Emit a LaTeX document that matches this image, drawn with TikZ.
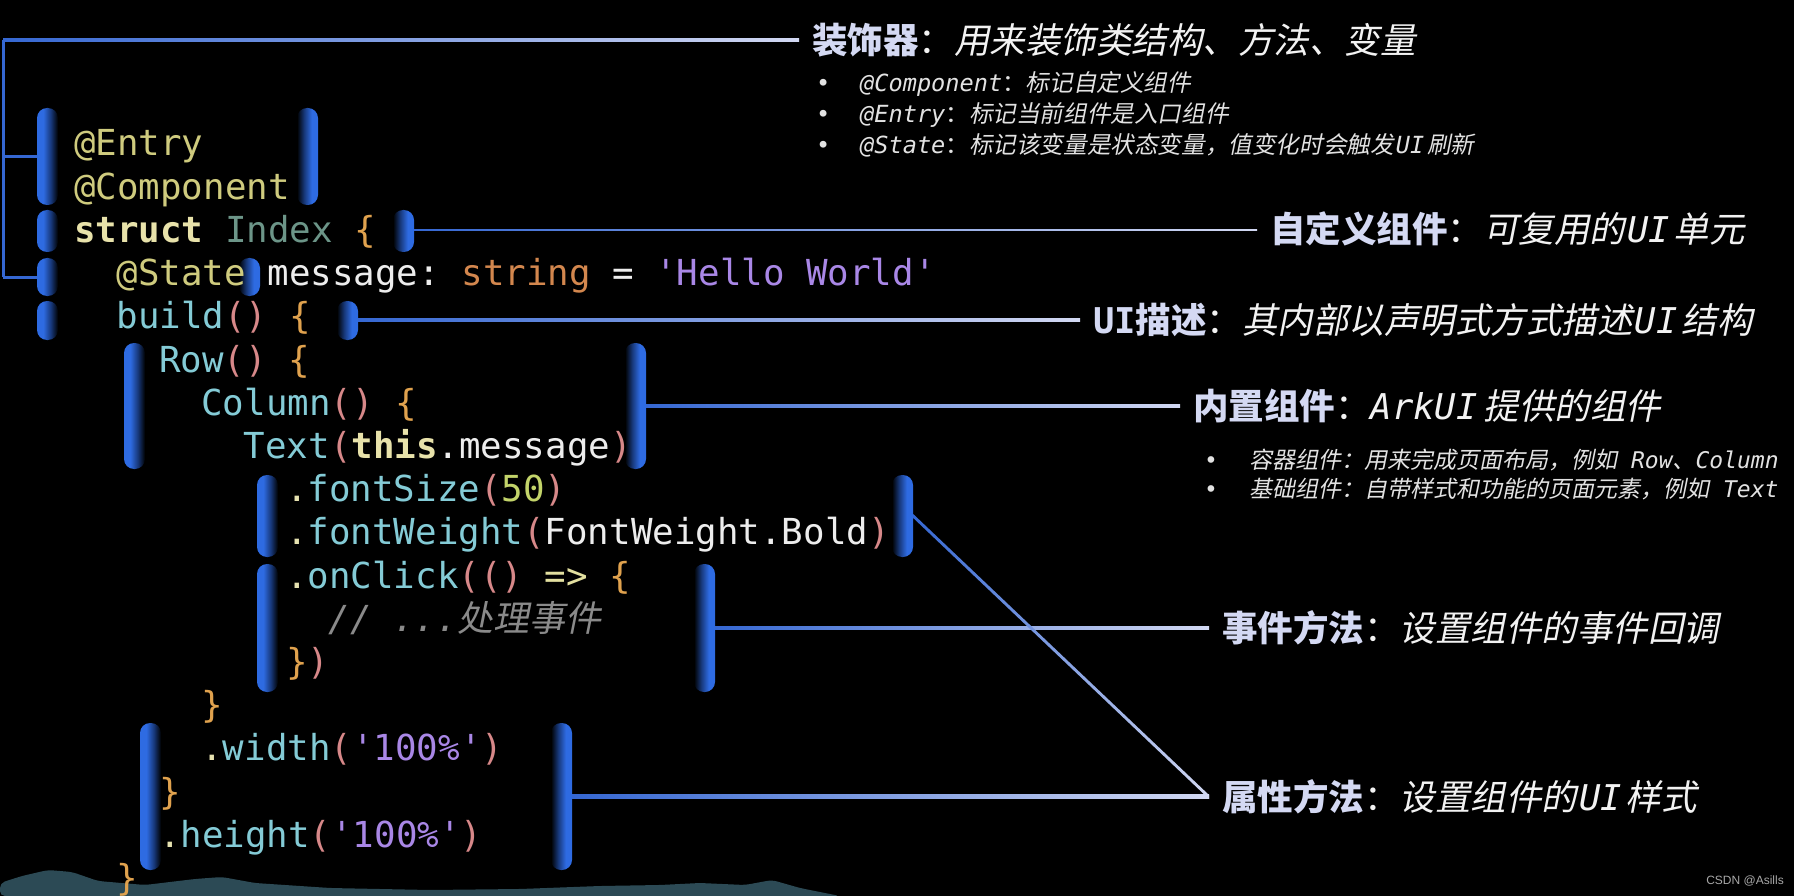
\documentclass[tikz,border=0pt]{standalone}
\usepackage{fontspec}
\setmonofont{DejaVu Sans Mono}
\newfontfamily\cjk{Noto Sans CJK SC}[ItalicFont={Noto Sans CJK SC}, ItalicFeatures={FakeSlant=0.2}]
\newfontfamily\wmfont{Liberation Sans}
\usetikzlibrary{calc,fit}
\definecolor{deco}{HTML}{CFCB7E}
\definecolor{kw}{HTML}{E8E2AA}
\definecolor{typ}{HTML}{6C9588}
\definecolor{brc}{HTML}{E0A24E}
\definecolor{par}{HTML}{D78889}
\definecolor{fn}{HTML}{84CBD6}
\definecolor{strc}{HTML}{A987E6}
\definecolor{stype}{HTML}{D3874E}
\definecolor{wht}{HTML}{EDEDED}
\definecolor{num}{HTML}{C3D46A}
\definecolor{cmt}{HTML}{8A8A8A}
\definecolor{arr}{HTML}{E3E0A0}
\definecolor{dotc}{HTML}{E6E2B0}
\definecolor{barblue}{HTML}{2E6BE2}
\definecolor{bardark}{HTML}{17387A}
\definecolor{lnA}{HTML}{3567D2}
\definecolor{lnB}{HTML}{D2D8F2}
\definecolor{ttl}{HTML}{D4D9F3}
\definecolor{dsc}{HTML}{F2F2F2}
\definecolor{bul}{HTML}{E2E2E2}
\definecolor{silh}{HTML}{2C4A55}
\definecolor{wm}{HTML}{A8A8A8}
\pgfdeclarehorizontalshading{barLeft}{100bp}{color(0bp)=(barblue); color(25bp)=(barblue); color(40bp)=(barblue); color(58bp)=(bardark); color(75bp)=(black); color(100bp)=(black)}
\pgfdeclarehorizontalshading{barRight}{100bp}{color(0bp)=(black); color(25bp)=(black); color(42bp)=(bardark); color(60bp)=(barblue); color(75bp)=(barblue); color(100bp)=(barblue)}
\newcommand{\cl}[4]{\node[code] (#1) at ({74+#2*21.2},{145+#3*43.2+11}) {#4};}
\newcommand{\codebox}[5]{%
  \shade[shading=barLeft, rounded corners=10pt] (#2,#3) rectangle (#2+21,#5);
  \shade[shading=barRight, rounded corners=10pt] (#4-21,#3) rectangle (#4,#5);
  \path (#2,#3) coordinate (#1-nw) (#4,#5) coordinate (#1-se);
  \node[inner sep=0pt, fit=(#1-nw)(#1-se)] (#1) {};
}
\newcommand{\gl}[2]{\shade[left color=lnA, right color=lnB] ($(#1)+(0,-1.6)$) rectangle ($(#2)+(0,1.6)$);}
\newcommand{\ui}{{\ttfamily\itshape UI}\hspace{4pt}}
\begin{document}
\begin{tikzpicture}[x=1pt,y=-1pt,
  code/.style={font=\ttfamily\fontsize{35.8}{43}\selectfont, anchor=base west, inner sep=0pt},
  lab/.style={font=\fontsize{35.5}{41}\selectfont, anchor=west, inner xsep=13pt, inner ysep=0pt, text=dsc},
  bl/.style={font=\fontsize{23.6}{28}\selectfont, anchor=west, inner sep=0pt, text=bul},
  bls/.style={font=\fontsize{23}{28}\selectfont, anchor=west, inner sep=0pt, text=bul},
  vline/.style={draw=lnA, line width=3pt}]
\fill[black] (0,0) rectangle (1794,896);
\useasboundingbox (0,0) rectangle (1794,896);
% bottom silhouette
\fill[silh, rounded corners=5pt] (0,896) -- (0,883) -- (22,876) -- (48,870) -- (72,872) -- (98,881) -- (145,885) -- (195,879) -- (222,877) -- (255,883) -- (330,888) -- (430,890) -- (520,889) -- (600,886) -- (660,885) -- (700,883) -- (745,885) -- (772,880) -- (800,888) -- (840,896) -- cycle;
% boxes
\codebox{bDeco}{37}{108}{318}{205}
\codebox{bStruct}{37}{210}{414}{252}
\codebox{bState}{37}{258}{260}{296}
\codebox{bBuild}{37}{301}{358}{340}
\codebox{bRow}{124}{343}{646}{469}
\codebox{bAttrA}{257}{475}{913}{557}
\codebox{bEvent}{257}{564}{715}{692}
\codebox{bAttrB}{140}{723}{572}{870}
% code
\cl{l0}{0}{0}{\textcolor{deco}{@Entry}}
\cl{l1}{0}{1}{\textcolor{deco}{@Component}}
\cl{l2}{0}{2}{\textcolor{kw}{\bfseries struct} \textcolor{typ}{Index} \textcolor{brc}{\{}}
\cl{l3}{2}{3}{\textcolor{deco}{@State} \textcolor{wht}{message:} \textcolor{stype}{string} \textcolor{wht}{=} \textcolor{strc}{'Hello World'}}
\cl{l4}{2}{4}{\textcolor{fn}{build}\textcolor{par}{()} \textcolor{brc}{\{}}
\cl{l5}{4}{5}{\textcolor{fn}{Row}\textcolor{par}{()} \textcolor{brc}{\{}}
\cl{l6}{6}{6}{\textcolor{fn}{Column}\textcolor{par}{()} \textcolor{brc}{\{}}
\cl{l7}{8}{7}{\textcolor{fn}{Text}\textcolor{par}{(}\textcolor{kw}{\bfseries this}\textcolor{wht}{.message}\textcolor{par}{)}}
\cl{l8}{10}{8}{\textcolor{dotc}{.}\textcolor{fn}{fontSize}\textcolor{par}{(}\textcolor{num}{50}\textcolor{par}{)}}
\cl{l9}{10}{9}{\textcolor{dotc}{.}\textcolor{fn}{fontWeight}\textcolor{par}{(}\textcolor{wht}{FontWeight.Bold}\textcolor{par}{)}}
\cl{l10}{10}{10}{\textcolor{dotc}{.}\textcolor{fn}{onClick}\textcolor{par}{(()} \textcolor{arr}{=>} \textcolor{brc}{\{}}
\cl{l11}{12}{11}{\textcolor{cmt}{\itshape // ...{\cjk\itshape 处理事件}}}
\cl{l12}{10}{12}{\textcolor{brc}{\}}\textcolor{par}{)}}
\cl{l13}{6}{13}{\textcolor{brc}{\}}}
\cl{l14}{6}{14}{\textcolor{dotc}{.}\textcolor{fn}{width}\textcolor{par}{(}\textcolor{strc}{'100\%'}\textcolor{par}{)}}
\cl{l15}{4}{15}{\textcolor{brc}{\}}}
\cl{l16}{4}{16}{\textcolor{dotc}{.}\textcolor{fn}{height}\textcolor{par}{(}\textcolor{strc}{'100\%'}\textcolor{par}{)}}
\cl{l17}{2}{17}{\textcolor{brc}{\}}}
% labels
\node[lab] (labDeco) at (799,40) {{\cjk\bfseries\color{ttl}装饰器}{\cjk ：}{\cjk\itshape 用来装饰类结构、方法、变量}};
\node[lab] (labStruct) at (1257,229) {{\cjk\bfseries\color{ttl}自定义组件}{\cjk ：}{\cjk\itshape 可复用的}\hspace{2pt}\ui{\cjk\itshape 单元}};
\node[lab] (labBuild) at (1080,320) {{\ttfamily\bfseries\color{ttl}UI}{\cjk\bfseries\color{ttl}描述}{\cjk ：}{\cjk\itshape 其内部以声明式方式描述}\hspace{2pt}\ui{\cjk\itshape 结构}};
\node[lab] (labRow) at (1180,406) {{\cjk\bfseries\color{ttl}内置组件}{\cjk ：}{\ttfamily\itshape ArkUI}\hspace{6pt}{\cjk\itshape 提供的组件}};
\node[lab] (labEvent) at (1209,628) {{\cjk\bfseries\color{ttl}事件方法}{\cjk ：}{\cjk\itshape 设置组件的事件回调}};
\node[lab] (labAttr) at (1209,797) {{\cjk\bfseries\color{ttl}属性方法}{\cjk ：}{\cjk\itshape 设置组件的}\hspace{2pt}\ui{\cjk\itshape 样式}};
% bullets
\node[bl] (b1) at (816,84) {\makebox[44pt][l]{\ttfamily •}{\ttfamily\itshape @Component}{\cjk ：}{\cjk\itshape 标记自定义组件}};
\node[bl] (b2) at (816,115) {\makebox[44pt][l]{\ttfamily •}{\ttfamily\itshape @Entry}{\cjk ：}{\cjk\itshape 标记当前组件是入口组件}};
\node[bl] (b3) at (816,145) {\makebox[44pt][l]{\ttfamily •}{\ttfamily\itshape @State}{\cjk ：}{\cjk\itshape 标记该变量是状态变量，值变化时会触发}\hspace{2pt}{\ttfamily\itshape UI}\hspace{3pt}{\cjk\itshape 刷新}};
\node[bls] (b4) at (1204,460) {\makebox[45pt][l]{\ttfamily •}{\cjk\itshape 容器组件：用来完成页面布局，例如}{\ttfamily\itshape\ Row}{\cjk\itshape 、}{\ttfamily\itshape Column}};
\node[bls] (b5) at (1204,489) {\makebox[45pt][l]{\ttfamily •}{\cjk\itshape 基础组件：自带样式和功能的页面元素，例如}{\ttfamily\itshape\ Text}};
% watermark
\node[font=\wmfont\fontsize{12}{14}\selectfont, text=wm, anchor=east, inner sep=0pt] (wmk) at (1784,881) {CSDN @Asills};
% connectors
\coordinate (dTop) at (3,40);
\coordinate (dE) at (3,156.5);
\coordinate (dS) at (3,277);
\draw[vline] (dS) -- (dTop);
\draw[vline] (dE) -- (bDeco.west);
\draw[vline] (dS) -- (bState.west);
\gl{dTop}{labDeco.west}
\gl{bStruct.east}{labStruct.west}
\gl{bBuild.east}{labBuild.west}
\gl{bRow.east}{labRow.west}
\gl{bEvent.east}{labEvent.west}
\gl{bAttrB.east}{labAttr.west}
\shade[left color=lnA, right color=lnB] ($(bAttrA.east)+(0,-2)$) -- ($(labAttr.west)+(0,-2)$) -- ($(labAttr.west)+(0,2)$) -- ($(bAttrA.east)+(0,2)$) -- cycle;
\end{tikzpicture}
\end{document}
